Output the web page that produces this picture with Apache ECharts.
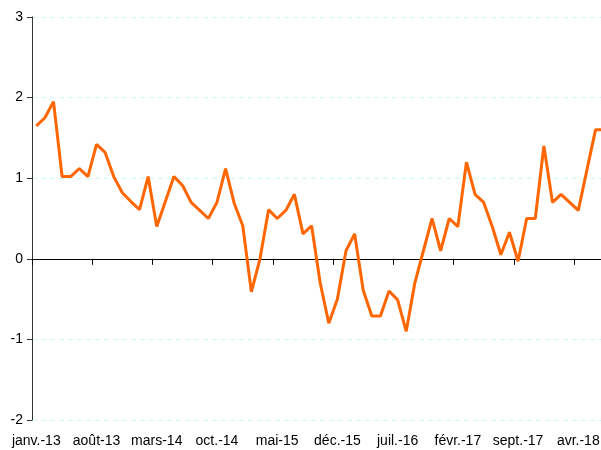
<!DOCTYPE html>
<html>
<head>
<meta charset="utf-8">
<script src="https://cdn.jsdelivr.net/npm/echarts@6/dist/echarts.min.js"></script>
<style>
html,body{margin:0;padding:0;background:#fff;overflow:hidden;width:601px;height:450px;}
#chart{width:609px;height:450px;}
</style>
</head>
<body>
<div id="chart"></div>
<script>
const months = ['janv.','févr.','mars','avr.','mai','juin','juil.','août','sept.','oct.','nov.','déc.'];
const startYear = 13;
const values = [
  1.65, 1.75, 1.95, 1.02, 1.02, 1.12, 1.02, 1.42, 1.32, 1.02,
  0.82, 0.71, 0.61, 1.02, 0.40, 0.71, 1.02, 0.91, 0.70, 0.60,
  0.50, 0.70, 1.12, 0.69, 0.41, -0.41, 0.00, 0.61, 0.50, 0.60,
  0.80, 0.31, 0.41, -0.30, -0.80, -0.50, 0.10, 0.31, -0.39, -0.71,
  -0.71, -0.40, -0.51, -0.90, -0.30, 0.10, 0.50, 0.10, 0.50, 0.40,
  1.20, 0.80, 0.70, 0.40, 0.05, 0.33, -0.03, 0.50, 0.50, 1.40,
  0.70, 0.80, 0.70, 0.60, 1.10, 1.60, 1.60
];
const categories = values.map((v, i) => months[i % 12] + '-' + (startYear + Math.floor(i / 12)));
const yTicks = [-2, -1, 0, 1, 2, 3];

const chart = echarts.init(document.getElementById('chart'), null, {renderer: 'canvas'});
const font = 'Liberation Sans, Arial, sans-serif';
chart.setOption({
  animation: false,
  backgroundColor: '#ffffff',
  grid: {left: 32, right: 0.6, top: 17, bottom: 30, containLabel: false},
  xAxis: [{
    type: 'category',
    data: categories,
    boundaryGap: true,
    axisLine: {show: true, onZero: true, lineStyle: {color: '#000', width: 1}},
    axisTick: {show: true, interval: 6, length: 6, inside: false, lineStyle: {color: '#000'}},
    axisLabel: {show: false},
    splitLine: {show: false}
  }, {
    type: 'category',
    data: categories,
    boundaryGap: true,
    position: 'bottom',
    axisLine: {show: false, onZero: false},
    axisTick: {show: false},
    axisLabel: {show: true, interval: 6, margin: 14, fontSize: 14, color: '#000', fontFamily: font},
    splitLine: {show: false}
  }],
  yAxis: {
    type: 'value',
    min: yTicks[0],
    max: yTicks[yTicks.length - 1],
    interval: 1,
    axisLine: {show: true, lineStyle: {color: '#333', width: 1}},
    axisTick: {show: true, length: 5, lineStyle: {color: '#333'}},
    axisLabel: {margin: 9, fontSize: 14, color: '#000', fontFamily: font},
    splitLine: {show: true, lineStyle: {color: '#ccfafa', type: [5, 4], width: 1}}
  },
  series: [{
    type: 'line',
    data: values,
    xAxisIndex: 0,
    symbol: 'none',
    lineStyle: {color: '#ff6600', width: 3},
    itemStyle: {color: '#ff6600'}
  }]
});
</script>
</body>
</html>
